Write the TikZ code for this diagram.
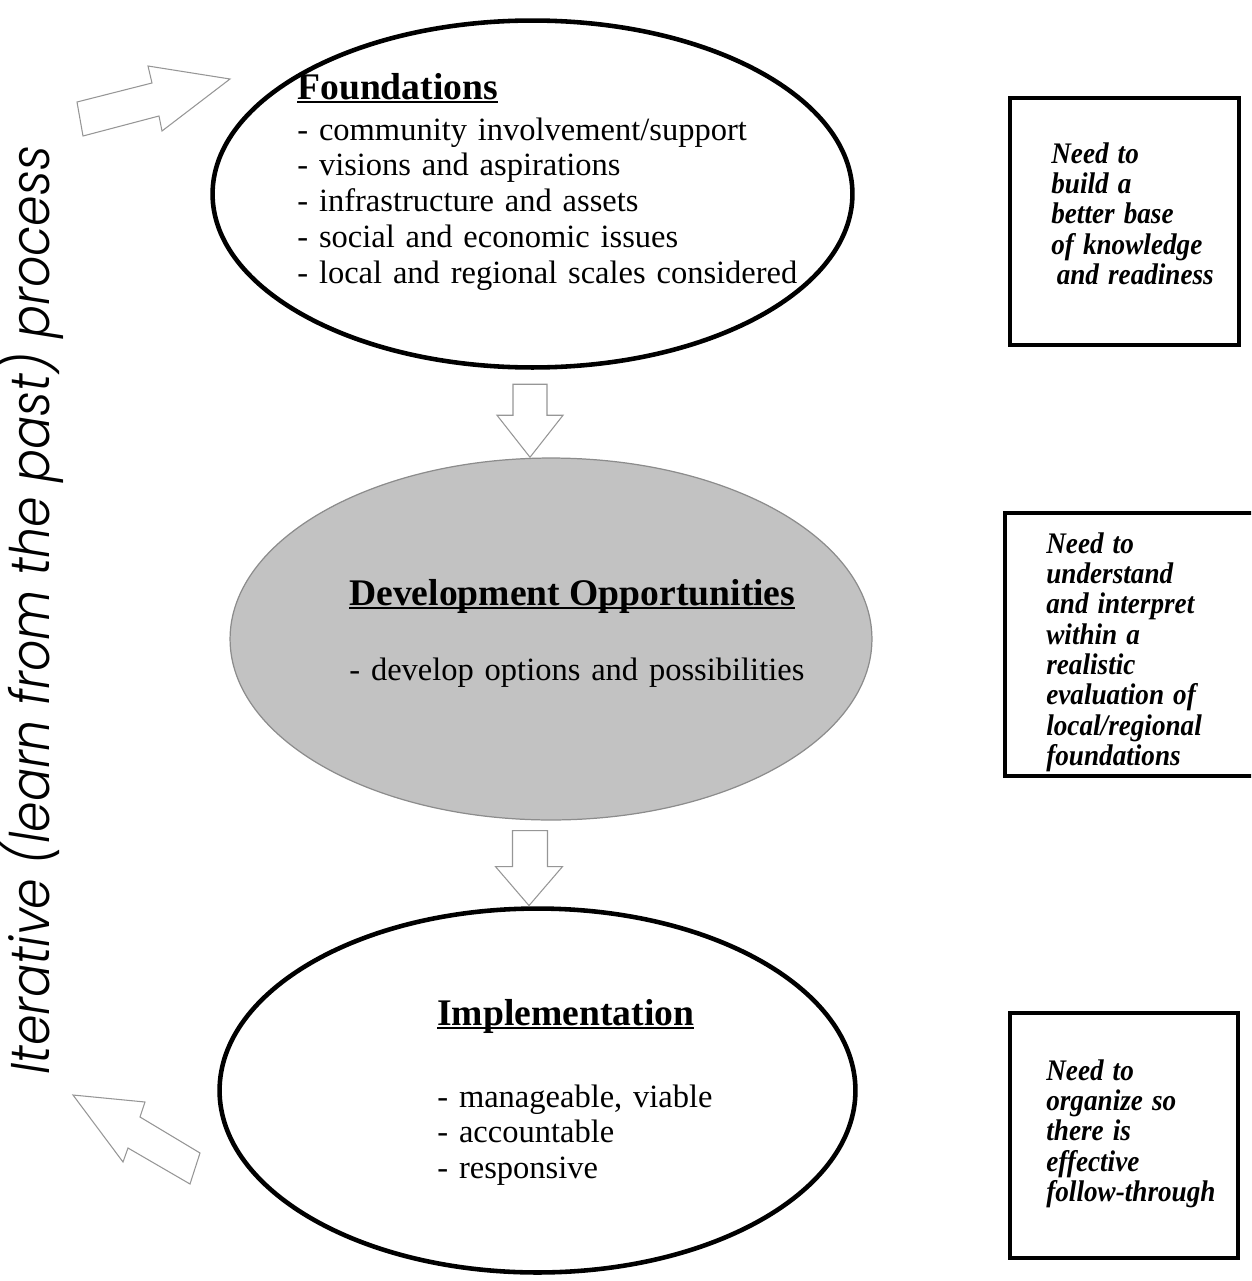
\documentclass[tikz,border=0pt]{standalone}
\usepackage{fontspec}
\setmainfont{Liberation Serif}
\newfontfamily\sidefont{Poppins Light Italic}
\usetikzlibrary{shapes.geometric}

\definecolor{oppgray}{RGB}{194,194,194}
\definecolor{arrowgray}{RGB}{150,150,150}

% underline at a fixed depth, also through descenders
\newcommand{\headul}[1]{\setbox0\hbox{#1}\rlap{\rule[-2.4pt]{\wd0}{1.1pt}}\box0}

\begin{document}
\begin{tikzpicture}[x=0.02cm, y=-0.02cm,
    oval/.style={ellipse, draw=black, line width=2.6pt, inner sep=0pt},
    heading/.style={anchor=base west, inner sep=0pt, font=\fontsize{21.4}{24}\selectfont\bfseries},
    listtext/.style={anchor=base west, inner sep=0pt, align=left, text width=11cm, font=\fontsize{18.5}{20.4}\selectfont},
    notebox/.style={rectangle, draw=black, line width=2.2pt, inner sep=0pt},
    notetext/.style={anchor=base west, inner sep=0pt, align=left, text width=5cm, xscale=0.91, transform shape,
      font=\fontsize{17}{17.3}\selectfont\bfseries\itshape},
    blockarrow/.style={draw=arrowgray, line width=0.6pt, fill=white}]
  \clip (0,0) rectangle (1251,1281);

  % the three stages
  \node[oval, minimum width=12.8cm, minimum height=6.94cm] (found) at (532.5,194) {};
  \node[oval, fill=oppgray, draw=black!45, line width=0.7pt, minimum width=12.84cm, minimum height=7.24cm] (devel) at (551,639) {};
  \node[oval, minimum width=12.72cm, minimum height=7.28cm] (impl) at (537.5,1090.5) {};

  \node[heading] (foundhead) at (297,99) {\headul{Foundations}};
  \node[listtext] (foundlist) at (297,140) {- community involvement/support\\
    - visions and aspirations\\
    - infrastructure and assets\\
    - social and economic issues\\
    - local and regional scales considered};

  \node[heading] (develhead) at (349,605) {\headul{Development Opportunities}};
  \node[listtext] (devellist) at (349,680) {- develop options and possibilities};

  \node[heading] (implhead) at (437,1025) {\headul{Implementation}};
  \node[listtext] (impllist) at (437,1107) {- manageable, viable\\
    - accountable\\
    - responsive};

  % hollow arrows between the stages
  \path (found.south) ++(-2.5,14.5) coordinate (down1);
  \draw[blockarrow] (down1) ++(-17,0) -- ++(34,0) -- ++(0,31) -- ++(16,0) -- ++(-33,42) -- ++(-33,-42) -- ++(16,0) -- cycle;
  \path (devel.south) ++(-21.5,10) coordinate (down2);
  \draw[blockarrow] (down2) ++(-17,0) -- ++(35,0) -- ++(0,36) -- ++(15,0) -- ++(-33.5,39) -- ++(-33.5,-39) -- ++(17,0) -- cycle;

  % the loop back
  \draw[blockarrow] (77,102) -- (152,83) -- (148,66) -- (230,79) -- (162,131) -- (159,116) -- (83,136) -- cycle;
  \draw[blockarrow] (73,1095) -- (145,1102) -- (140,1117) -- (200,1153) -- (190,1184) -- (128,1148) -- (123,1162) -- cycle;

  \node[rotate=90, anchor=base west, inner sep=0pt, font=\fontsize{31}{33}\sidefont] (iter) at (50,1075)
    {\scalebox{0.9}[1]{Iterative (learn from the past) process}};

  % notes on the right
  \node[notebox, minimum width=4.58cm, minimum height=4.94cm] (need1) at (1124.5,221.5) {};
  \node[notetext] (need1text) at (1051,163) {Need to\\ build a\\ better base\\ of knowledge\\ \hspace*{3.4pt}and readiness};

  \node[notebox, minimum width=5.14cm, minimum height=5.26cm] (need2) at (1133.5,644.5) {};
  \node[notetext] (need2text) at (1046,553) {Need to\\ understand\\ and interpret\\ within a\\ realistic\\ evaluation of\\ local/regional\\ foundations};

  \node[notebox, minimum width=4.56cm, minimum height=4.9cm] (need3) at (1124,1135.5) {};
  \node[notetext] (need3text) at (1046,1080) {Need to\\ organize so\\ there is\\ effective\\ follow-through};
\end{tikzpicture}
\end{document}
